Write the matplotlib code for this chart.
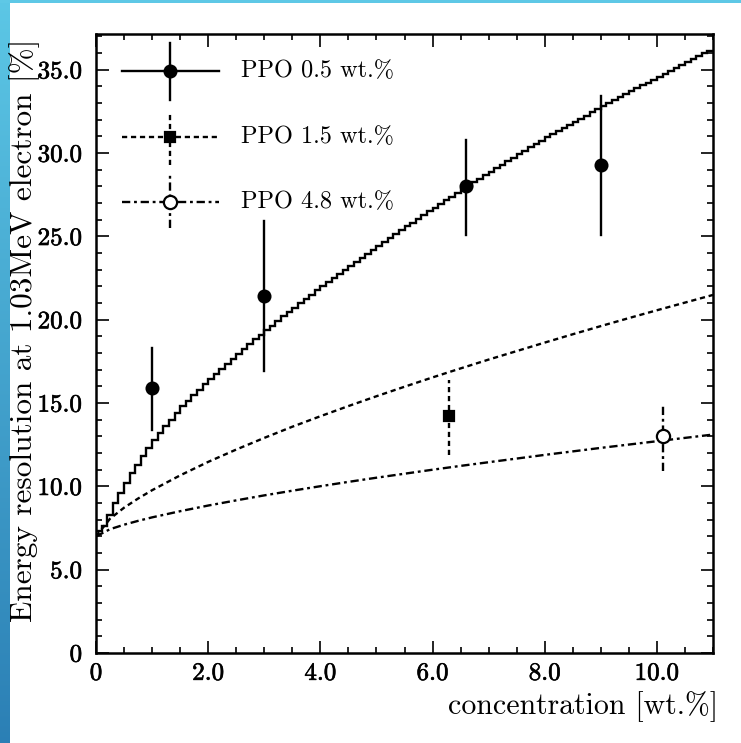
import numpy as np
import matplotlib
matplotlib.use("Agg")
import matplotlib.pyplot as plt
import matplotlib.patheffects as pe
from matplotlib.patches import Rectangle

plt.rcParams["font.family"] = ["cmr10", "DejaVu Serif"]
plt.rcParams["axes.formatter.use_mathtext"] = True

# Measured points with vertical error ranges
ppo05_x = [1.0, 3.0, 6.6, 9.0]
ppo05_y = [15.9, 21.4, 28.0, 29.3]
ppo05_lo = [13.4, 16.9, 25.1, 25.1]
ppo05_hi = [18.3, 25.9, 30.8, 33.4]

ppo15_x = [6.3]
ppo15_y = [14.2]
ppo15_lo = [11.9]
ppo15_hi = [16.4]

ppo48_x = [10.1]
ppo48_y = [13.0]
ppo48_lo = [10.9]
ppo48_hi = [14.9]

# Simulated resolution for PPO 0.5 wt.% (histogram, 0.1 wt.% bins from 0 to 11)
sim05_edges = np.linspace(0.0, 11.0, 111)
sim05_vals = [
    7.30, 7.60, 8.30, 9.00, 9.60, 10.20, 10.80, 11.30, 11.80, 12.30,
    12.80, 13.20, 13.60, 14.00, 14.40, 14.81, 15.15, 15.49, 15.81, 16.13,
    16.45, 16.76, 17.07, 17.37, 17.67, 17.96, 18.25, 18.54, 18.82, 19.10,
    19.38, 19.65, 19.93, 20.20, 20.46, 20.73, 20.99, 21.25, 21.51, 21.76,
    22.01, 22.27, 22.51, 22.76, 23.01, 23.25, 23.49, 23.73, 23.97, 24.21,
    24.45, 24.68, 24.91, 25.14, 25.37, 25.60, 25.83, 26.05, 26.28, 26.50,
    26.73, 26.95, 27.17, 27.39, 27.60, 27.82, 28.03, 28.25, 28.46, 28.67,
    28.88, 29.10, 29.31, 29.52, 29.72, 29.93, 30.14, 30.34, 30.54, 30.75,
    30.94, 31.13, 31.32, 31.50, 31.70, 31.88, 32.07, 32.25, 32.44, 32.62,
    32.80, 32.98, 33.16, 33.34, 33.52, 33.70, 33.89, 34.06, 34.23, 34.41,
    34.58, 34.76, 34.94, 35.11, 35.28, 35.46, 35.63, 35.81, 35.98, 36.15,
]

# Simulated curves for PPO 1.5 and 4.8 wt.%
sim_x = [0.0, 0.25, 0.5, 0.75, 1.0, 1.5, 2.0, 2.5, 3.0, 3.5, 4.0, 4.5, 5.0,
         5.5, 6.0, 6.5, 7.0, 7.5, 8.0, 8.5, 9.0, 9.5, 10.0, 10.5, 11.0]
sim15_y = [7.00, 8.06, 8.72, 9.27, 9.77, 10.66, 11.47, 12.21, 12.91, 13.58,
           14.21, 14.82, 15.41, 15.98, 16.54, 17.08, 17.61, 18.12, 18.63,
           19.13, 19.62, 20.10, 20.57, 21.03, 21.49]
sim48_y = [7.00, 7.43, 7.70, 7.93, 8.14, 8.51, 8.85, 9.16, 9.46, 9.74,
           10.01, 10.27, 10.52, 10.76, 11.00, 11.23, 11.45, 11.67, 11.89,
           12.10, 12.31, 12.51, 12.71, 12.91, 13.11]

labels = ["PPO 0.5 wt.%", "PPO 1.5 wt.%", "PPO 4.8 wt.%"]
xticks = [0, 2, 4, 6, 8, 10]
xtick_labels = ["0", "2.0", "4.0", "6.0", "8.0", "10.0"]
yticks = [0, 5, 10, 15, 20, 25, 30, 35]
ytick_labels = ["0", "5.0", "10.0", "15.0", "20.0", "25.0", "30.0", "35.0"]

W, H = 741, 743
fig = plt.figure(figsize=(W / 100, H / 100), dpi=100)

# Slide frame: gradient strip on the left, thin band along the top
strip = fig.add_axes([0, 0, 10 / W, 1])
grad = np.linspace(0, 1, 256).reshape(-1, 1)
top_c = np.array([0.36, 0.78, 0.90])
bot_c = np.array([0.17, 0.50, 0.71])
img = top_c[None, None, :] * (1 - grad[:, :, None]) + bot_c[None, None, :] * grad[:, :, None]
strip.imshow(img, aspect="auto", extent=[0, 1, 0, 1])
strip.set_axis_off()
fig.patches.append(Rectangle((0, 1 - 2.5 / H), 1, 2.5 / H, transform=fig.transFigure,
                             facecolor="#5ec8e6", edgecolor="none", zorder=5))

ax = fig.add_axes([96 / W, 90 / H, 617 / W, 619 / H])
ax.set_xlim(0, 11.0)
ax.set_ylim(0, 37.15)

lw = 1.7
ax.stairs(sim05_vals, sim05_edges, color="black", lw=lw, baseline=None)
ax.plot(sim_x, sim15_y, color="black", lw=lw, linestyle=(0, (2.2, 1.6)))
ax.plot(sim_x, sim48_y, color="black", lw=lw, linestyle=(0, (3.5, 1.6, 1.2, 1.6)))

def draw_points(xs, ys, lo, hi, ls, marker, ms, mfc):
    for x, y, a, b in zip(xs, ys, lo, hi):
        ax.plot([x, x], [a, b], color="black", lw=lw, linestyle=ls)
    ax.plot(xs, ys, linestyle="none", marker=marker, ms=ms, mfc=mfc,
            mec="black", mew=1.6, zorder=4)

draw_points(ppo05_x, ppo05_y, ppo05_lo, ppo05_hi, "-", "o", 8.5, "black")
draw_points(ppo15_x, ppo15_y, ppo15_lo, ppo15_hi, (0, (2.2, 1.6)), "s", 7.5, "black")
draw_points(ppo48_x, ppo48_y, ppo48_lo, ppo48_hi, (0, (3.5, 1.6, 1.2, 1.6)), "o", 9.5, "white")

# Key drawn in axes coordinates
def px(xp, yp):
    return (xp - 96) / 617, (653 - yp) / 619

key_rows = [
    (71, "-", "o", 8.5, "black", 43, 100),
    (137, (0, (2.2, 1.6)), "s", 7.5, "black", 112, 165),
    (202, (0, (3.5, 1.6, 1.2, 1.6)), "o", 9.5, "white", 175, 228),
]
for (yp, ls, mk, ms, mfc, ytop, ybot), lab in zip(key_rows, labels):
    x0, yy = px(122, yp)
    x1, _ = px(219, yp)
    xm, _ = px(170, yp)
    _, y_top = px(170, ytop)
    _, y_bot = px(170, ybot)
    ax.plot([x0, x1], [yy, yy], transform=ax.transAxes, color="black", lw=lw, linestyle=ls)
    ax.plot([xm, xm], [y_bot, y_top], transform=ax.transAxes, color="black", lw=lw, linestyle=ls)
    ax.plot([xm], [yy], transform=ax.transAxes, marker=mk, ms=ms, mfc=mfc, mec="black",
            mew=1.6, linestyle="none", zorder=4)
    xt, _ = px(241, yp)
    ax.text(xt, yy, lab, transform=ax.transAxes, fontsize=17.5, va="center", ha="left")

ax.set_xticks(xticks)
ax.set_xticklabels(xtick_labels)
ax.set_yticks(yticks)
ax.set_yticklabels(ytick_labels)
ax.set_xticks(np.arange(0, 11.01, 0.5), minor=True)
ax.set_yticks(np.arange(0, 37.1, 1.0), minor=True)
ax.tick_params(which="both", direction="in", top=True, right=True, width=1.2, labelsize=18)
ax.tick_params(which="major", length=9)
ax.tick_params(which="minor", length=4.5)
ax.tick_params(axis="x", which="major", pad=7)
ax.tick_params(axis="y", which="major", pad=10)
heavy = [pe.withStroke(linewidth=0.45, foreground="black")]
for t in ax.get_xticklabels() + ax.get_yticklabels():
    t.set_path_effects(heavy)
for s in ax.spines.values():
    s.set_linewidth(1.8)

ax.set_xlabel("concentration [wt.%]", fontsize=21.5, loc="right")
ax.xaxis.set_label_coords(1.008, -0.062)
ax.set_ylabel("Energy resolution at 1.03MeV electron [%]", fontsize=22.5)
ax.yaxis.set_label_coords(-0.09, 0.522)

fig.savefig("out.png", dpi=100)
